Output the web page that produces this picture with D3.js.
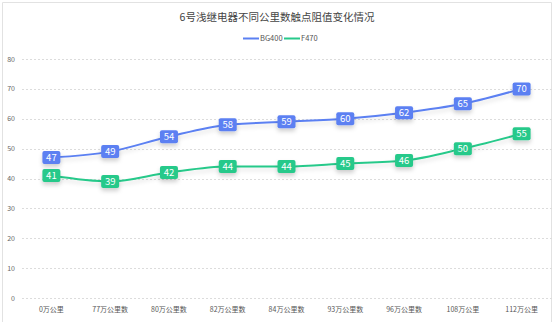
<!DOCTYPE html>
<html><head><meta charset="utf-8">
<script src="https://cdn.jsdelivr.net/npm/d3@7"></script>
<style>
html,body{margin:0;padding:0;background:#fff;}
svg{display:block;font-family:"Noto Sans CJK SC","Microsoft YaHei",sans-serif;}
</style></head>
<body><svg id="c" width="554" height="322"></svg>
<script>
const title = "6号浅继电器不同公里数触点阻值变化情况";
const categories = ["0万公里","77万公里数","80万公里数","82万公里数","84万公里数","93万公里数","96万公里数","108万公里","112万公里"];
const seriesNames = ["BG400","F470"];
const bg400 = [47,49,54,58,59,60,62,65,70];
const f470 = [41,39,42,44,44,45,46,50,55];
const yTicks = [0,10,20,30,40,50,60,70,80];
const colors = ["#5b80f2","#27c98a"];

const svg = d3.select("#c");
const W = 554, H = 322;
const m = {left:22, right:3, top:59, bottom:24};

// container border
svg.append("path").attr("d", `M2.5,${H} V2.5 H551.5 V${H}`).attr("fill","none").attr("stroke","#e2e2e2").attr("stroke-width",1);

const x = d3.scaleBand().domain(categories).range([m.left, W - m.right]);
const y = d3.scaleLinear().domain([0,80]).range([H - m.bottom, m.top]);

svg.append("text").attr("x",277).attr("y",21).attr("text-anchor","middle")
  .attr("font-size",10.5).attr("fill","#444").text(title);

// legend
const lg = svg.append("g");
const legendItems = [{n:seriesNames[0],c:colors[0],x:243},{n:seriesNames[1],c:colors[1],x:284}];
legendItems.forEach(d=>{
  lg.append("line").attr("x1",d.x).attr("x2",d.x+16).attr("y1",38.5).attr("y2",38.5).attr("stroke",d.c).attr("stroke-width",2);
  lg.append("text").attr("x",d.x+17).attr("y",41).attr("font-size",7.5).attr("fill","#555").text(d.n);
});

// grid
const gy = svg.append("g");
yTicks.forEach(t=>{
  gy.append("line").attr("x1",m.left).attr("x2",W-2).attr("y1",Math.round(y(t))+0.5).attr("y2",Math.round(y(t))+0.5)
    .attr("stroke","#dcdcdc").attr("stroke-dasharray","2,2");
  gy.append("text").attr("x",15).attr("y",y(t)+2.5).attr("text-anchor","end").attr("font-size",7).attr("fill","#666").text(t);
});

// x labels
const gx = svg.append("g").attr("transform",`translate(0,${H-m.bottom})`)
  .call(d3.axisBottom(x).tickSize(0).tickPadding(9));
gx.select(".domain").remove();
gx.selectAll("text").attr("font-size",7).attr("fill","#555").attr("font-family","'Noto Sans CJK SC',sans-serif");

const defs = svg.append("defs");
const f = defs.append("filter").attr("id","sh").attr("x","-50%").attr("y","-50%").attr("width","200%").attr("height","220%");
f.append("feDropShadow").attr("dx",0).attr("dy",3).attr("stdDeviation",2).attr("flood-color","#000").attr("flood-opacity",0.18);
const fl = defs.append("filter").attr("id","shl").attr("x","-10%").attr("y","-50%").attr("width","120%").attr("height","200%");
fl.append("feDropShadow").attr("dx",0).attr("dy",3).attr("stdDeviation",2).attr("flood-color","#000").attr("flood-opacity",0.12);

const line = d3.line().x((d,i)=>x(categories[i])+x.bandwidth()/2).y(d=>y(d)).curve(d3.curveMonotoneX);
[bg400,f470].forEach((s,k)=>{
  svg.append("path").datum(s).attr("d",line).attr("fill","none").attr("stroke",colors[k]).attr("stroke-width",2).attr("filter","url(#shl)");
});
[bg400,f470].forEach((s,k)=>{
  const g = svg.append("g");
  s.forEach((v,i)=>{
    const cx = x(categories[i])+x.bandwidth()/2, cy = y(v);
    g.append("rect").attr("x",cx-9).attr("y",cy-6.5).attr("width",18).attr("height",13).attr("rx",2)
      .attr("fill",colors[k]).attr("filter","url(#sh)");
    g.append("text").attr("x",cx).attr("y",cy+3.3).attr("text-anchor","middle").attr("font-size",9.5)
      .attr("fill","#fff").text(v);
  });
});
</script></body></html>
